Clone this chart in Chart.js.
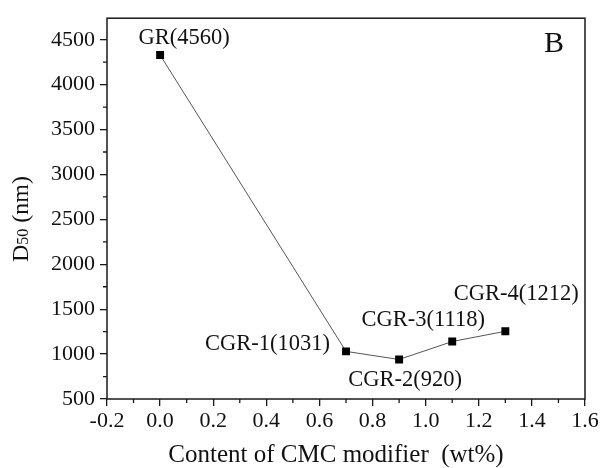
<!DOCTYPE html>
<html>
<head>
<meta charset="utf-8">
<script src="https://cdn.jsdelivr.net/npm/chart.js@4"></script>
<style>
html,body{margin:0;padding:0;background:#fff;}
#wrap{width:601px;height:468px;position:relative;}
</style>
</head>
<body>
<div id="wrap"><canvas id="c" width="601" height="468"></canvas></div>
<script>
// ---- data ----
const sampleNames = ['GR', 'CGR-1', 'CGR-2', 'CGR-3', 'CGR-4'];
const cmcContent = [0, 0.7, 0.9, 1.1, 1.3];
const d50Plotted = [4330, 1030, 940, 1140, 1254];
const d50Reported = [4560, 1031, 920, 1118, 1212];
const xTickValues = [-0.2, 0.0, 0.2, 0.4, 0.6, 0.8, 1.0, 1.2, 1.4, 1.6];
const yTickValues = [500, 1000, 1500, 2000, 2500, 3000, 3500, 4000, 4500];
const xTitle = 'Content of CMC modifier  (wt%)';
const yTitleMain = 'D';
const yTitleSub = '50';
const yTitleRest = ' (nm)';
const panelLetter = 'B';

// ---- styles ----
const SERIF = '"Liberation Serif", "Times New Roman", serif';
// label placement: [dx, dy, align] relative to the point, in pixels
const labelPlacement = [
  [24, -17, 'center'],
  [-16, -7, 'right'],
  [6, 21, 'center'],
  [-29, -21, 'center'],
  [11, -37, 'center']
];

const points = cmcContent.map((x, i) => ({x: x, y: d50Plotted[i]}));

const decorPlugin = {
  id: 'decor',
  afterDraw(chart) {
    const ctx = chart.ctx;
    const a = chart.chartArea;
    const xs = chart.scales.x, ys = chart.scales.y;
    ctx.save();
    // frame
    ctx.strokeStyle = '#1a1a1a';
    ctx.lineWidth = 1.5;
    ctx.strokeRect(a.left, a.top, a.right - a.left, a.bottom - a.top);
    // minor ticks
    ctx.lineWidth = 1.3;
    ctx.beginPath();
    for (let i = 0; i < xTickValues.length - 1; i++) {
      const px = xs.getPixelForValue((xTickValues[i] + xTickValues[i + 1]) / 2);
      ctx.moveTo(px, a.bottom);
      ctx.lineTo(px, a.bottom + 4);
    }
    for (let i = 0; i < yTickValues.length - 1; i++) {
      const py = ys.getPixelForValue((yTickValues[i] + yTickValues[i + 1]) / 2);
      ctx.moveTo(a.left, py);
      ctx.lineTo(a.left - 4, py);
    }
    const topMinor = yTickValues[yTickValues.length - 1] + (yTickValues[1] - yTickValues[0]) / 2;
    if (topMinor <= ys.max) {
      const py = ys.getPixelForValue(topMinor);
      ctx.moveTo(a.left, py);
      ctx.lineTo(a.left - 4, py);
    }
    ctx.stroke();

    // point labels
    ctx.fillStyle = '#111';
    ctx.font = '22.5px ' + SERIF;
    ctx.textBaseline = 'middle';
    const meta = chart.getDatasetMeta(0);
    meta.data.forEach((el, i) => {
      const p = labelPlacement[i];
      ctx.textAlign = p[2];
      ctx.fillText(sampleNames[i] + '(' + d50Reported[i] + ')', el.x + p[0], el.y + p[1]);
    });

    // panel letter
    ctx.font = '30px ' + SERIF;
    ctx.textAlign = 'right';
    ctx.textBaseline = 'alphabetic';
    ctx.fillText(panelLetter, a.right - 21, 52);

    // x title
    ctx.font = '25px ' + SERIF;
    ctx.textAlign = 'center';
    ctx.fillText(xTitle, (a.left + a.right) / 2 - 10, 462);

    // y title with subscript
    ctx.translate(28, 262);
    ctx.rotate(-Math.PI / 2);
    ctx.textAlign = 'left';
    ctx.font = '24px ' + SERIF;
    let w = ctx.measureText(yTitleMain).width;
    ctx.fillText(yTitleMain, 0, 0);
    ctx.font = '16px ' + SERIF;
    ctx.fillText(yTitleSub, w, 0);
    w += ctx.measureText(yTitleSub).width;
    ctx.font = '24px ' + SERIF;
    ctx.fillText(yTitleRest, w, 0);
    ctx.restore();
  }
};

new Chart(document.getElementById('c'), {
  type: 'scatter',
  data: {
    datasets: [{
      data: points,
      showLine: true,
      borderColor: '#555',
      borderWidth: 1,
      pointStyle: 'rect',
      pointRadius: 5.6,
      pointHoverRadius: 5.6,
      pointBackgroundColor: '#000',
      pointBorderColor: '#000',
      pointBorderWidth: 0,
      tension: 0
    }]
  },
  options: {
    responsive: false,
    animation: false,
    events: [],
    layout: {padding: {top: 14, right: 16, left: 0, bottom: 0}},
    plugins: {legend: {display: false}, tooltip: {enabled: false}},
    scales: {
      x: {
        type: 'linear',
        min: -0.2,
        max: 1.6,
        afterBuildTicks(s) { s.ticks = xTickValues.map(v => ({value: v})); },
        afterFit(s) { s.height = 69; },
        grid: {drawOnChartArea: false, tickLength: 7, color: '#1a1a1a', lineWidth: 1.3},
        border: {display: false},
        ticks: {
          color: '#111',
          padding: 2,
          maxRotation: 0,
          autoSkip: false,
          font: {family: SERIF, size: 22},
          callback: v => Number(v).toFixed(1)
        }
      },
      y: {
        type: 'linear',
        min: 500,
        max: 4740,
        afterBuildTicks(s) { s.ticks = yTickValues.map(v => ({value: v})); },
        afterFit(s) { s.width = 107; },
        grid: {drawOnChartArea: false, tickLength: 7, color: '#1a1a1a', lineWidth: 1.3},
        border: {display: false},
        ticks: {
          color: '#111',
          padding: 5,
          autoSkip: false,
          font: {family: SERIF, size: 22},
          callback: v => String(v)
        }
      }
    }
  },
  plugins: [decorPlugin]
});
</script>
</body>
</html>
